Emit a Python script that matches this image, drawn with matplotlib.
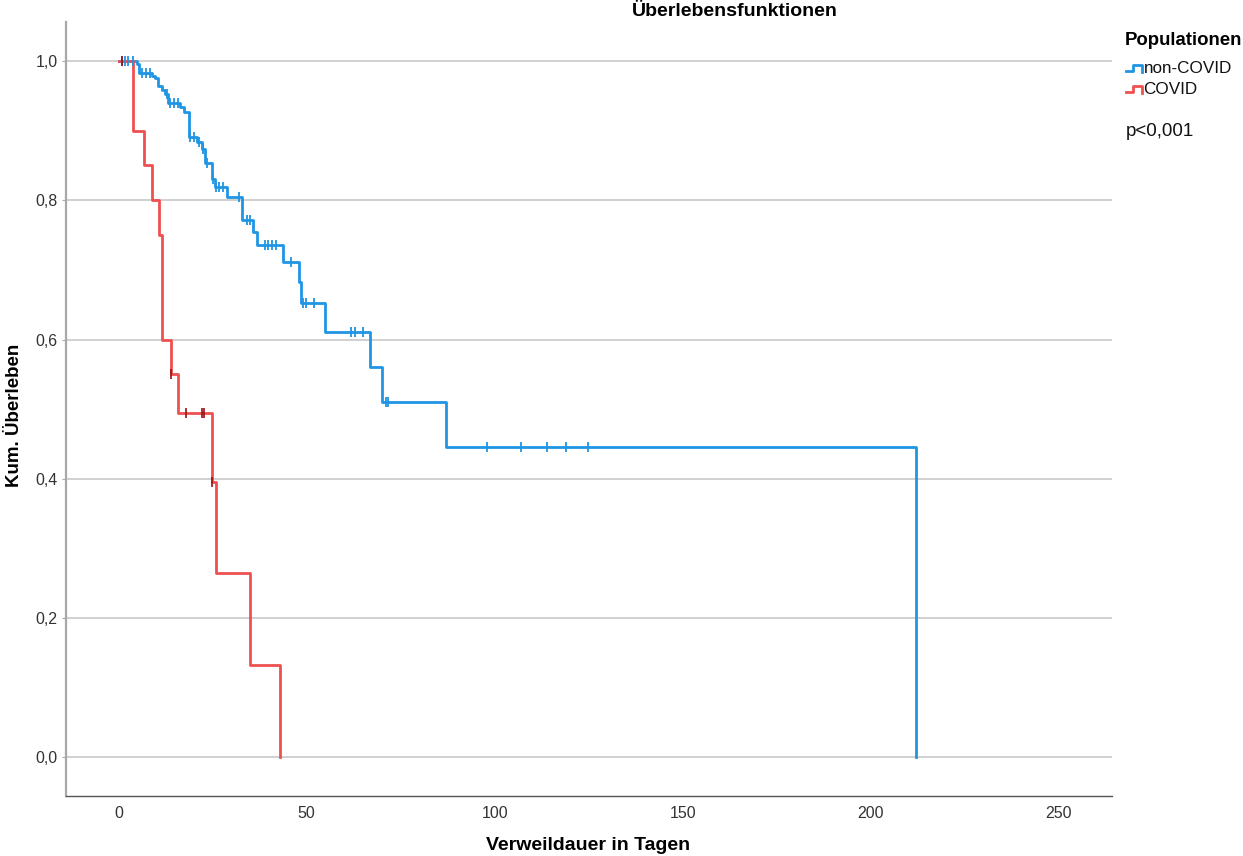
import numpy as np
import matplotlib
matplotlib.use("Agg")
import matplotlib.pyplot as plt
from matplotlib.lines import Line2D

plt.rcParams['font.family'] = ['Liberation Sans', 'DejaVu Sans']

# Kaplan-Meier steps (days, cumulative survival)
noncovid_t = [0, 4.8, 5.5, 8.8, 9.6, 10.5, 11.4, 12.3, 13.2, 16.3, 17.4, 18.8, 20.7, 22.1, 22.9,
              24.7, 25.6, 28.7, 32.7, 35.8, 36.7, 43.8, 47.9, 48.6, 54.8, 66.8, 69.9, 87.0, 211.9]
noncovid_s = [1.0, 0.995, 0.983, 0.979, 0.975, 0.964, 0.959, 0.953, 0.940, 0.934, 0.927, 0.891, 0.884,
              0.874, 0.853, 0.831, 0.819, 0.805, 0.772, 0.755, 0.736, 0.711, 0.683, 0.652, 0.611,
              0.560, 0.510, 0.445, 0.0]
noncovid_cens = [0.8, 1.7, 2.6, 3.9, 6.1, 7.4, 8.3, 12.8, 13.6, 14.7, 15.8, 19.1, 20.0, 21.4, 22.5,
                 23.6, 25.0, 25.9, 26.7, 27.8, 32.1, 34.0, 34.9, 38.9, 39.8, 40.7, 41.8, 45.7, 48.9,
                 49.8, 51.9, 61.9, 62.8, 65.0, 71.0, 71.7, 98.0, 106.9, 113.9, 118.9, 124.9]

covid_t = [0, 3.7, 6.8, 8.8, 10.8, 11.6, 13.8, 15.8, 24.7, 25.8, 34.9, 42.9]
covid_s = [1.0, 0.90, 0.85, 0.80, 0.75, 0.60, 0.55, 0.495, 0.396, 0.264, 0.132, 0.0]
covid_cens = [1.0, 14.0, 17.9, 22.1, 22.8, 24.9]

x_ticks = [0, 50, 100, 150, 200, 250]
y_ticks = [0.0, 0.2, 0.4, 0.6, 0.8, 1.0]

blue = '#1f95e3'
red = '#ee5050'
darkred = '#9a1010'

W, H = 1243, 856
fig = plt.figure(figsize=(W / 100, H / 100), dpi=100)
ax = fig.add_axes([66 / W, 1 - 796.3 / H, (1112 - 66) / W, (796.3 - 22) / H])


def surv_at(t, times, surv):
    idx = np.searchsorted(times, t, side='right') - 1
    return np.array(surv)[idx]


ax.step(noncovid_t, noncovid_s, where='post', color=blue, lw=2.0, zorder=3)
ax.step(covid_t, covid_s, where='post', color=red, lw=2.0, zorder=3)
ax.plot(noncovid_cens, surv_at(noncovid_cens, noncovid_t, noncovid_s), ls='none', marker='|',
        ms=6.5, mew=1.3, color=blue, zorder=4)
ax.plot(covid_cens, surv_at(covid_cens, covid_t, covid_s), ls='none', marker='|',
        ms=6.5, mew=1.2, color=darkred, zorder=4)

ax.set_xlim(-14.0, 264.1)
ax.set_ylim(-0.056, 1.056)
ax.set_xticks(x_ticks)
ax.set_yticks(y_ticks)
ax.set_yticklabels([f'{v:.1f}'.replace('.', ',') for v in y_ticks])
ax.yaxis.grid(True, color='#c8c8c8', lw=1.2)
ax.set_axisbelow(True)
ax.tick_params(axis='x', length=0, pad=7, labelsize=11.5, labelcolor='#333333')
ax.tick_params(axis='y', length=3, width=0.8, color='#aaaaaa', pad=3, labelsize=11.5, labelcolor='#333333')
for s in ['top', 'right']:
    ax.spines[s].set_visible(False)
ax.spines['left'].set_color('#a8a8a8')
ax.spines['left'].set_linewidth(1.6)
ax.spines['bottom'].set_color('#555555')
ax.spines['bottom'].set_linewidth(1.0)

fig.text(588 / W, 1 - 845 / H, 'Verweildauer in Tagen', ha='center', va='center',
         fontsize=14, fontweight='bold')
fig.text(15 / W, 1 - 415 / H, 'Kum. Überleben', ha='center', va='center', rotation=90,
         fontsize=13.5, fontweight='bold')
fig.text(735 / W, 1 - 12 / H, 'Überlebensfunktionen', ha='center', va='center',
         fontsize=14, fontweight='bold')

# legend block on the right
fig.text(1125 / W, 1 - 40.7 / H, 'Populationen', ha='left', va='center', fontsize=13.4, fontweight='bold')


def px(xs, ys):
    return [x / W for x in xs], [1 - y / H for y in ys]


for col, y0, label in [(blue, 71, 'non-COVID'), (red, 92, 'COVID')]:
    xs, ys = px([1126, 1133, 1133, 1142, 1142], [y0, y0, y0 - 6, y0 - 6, y0 + 1])
    fig.add_artist(Line2D(xs, ys, transform=fig.transFigure, color=col, lw=2.0))
    fig.text(1143.5 / W, 1 - (y0 - 2.5) / H, label, ha='left', va='center', fontsize=12.3, color='#111111')

fig.text(1126 / W, 1 - 131.7 / H, 'p<0,001', ha='left', va='center', fontsize=13.5, color='#111111')

fig.savefig('out.png', dpi=100)
